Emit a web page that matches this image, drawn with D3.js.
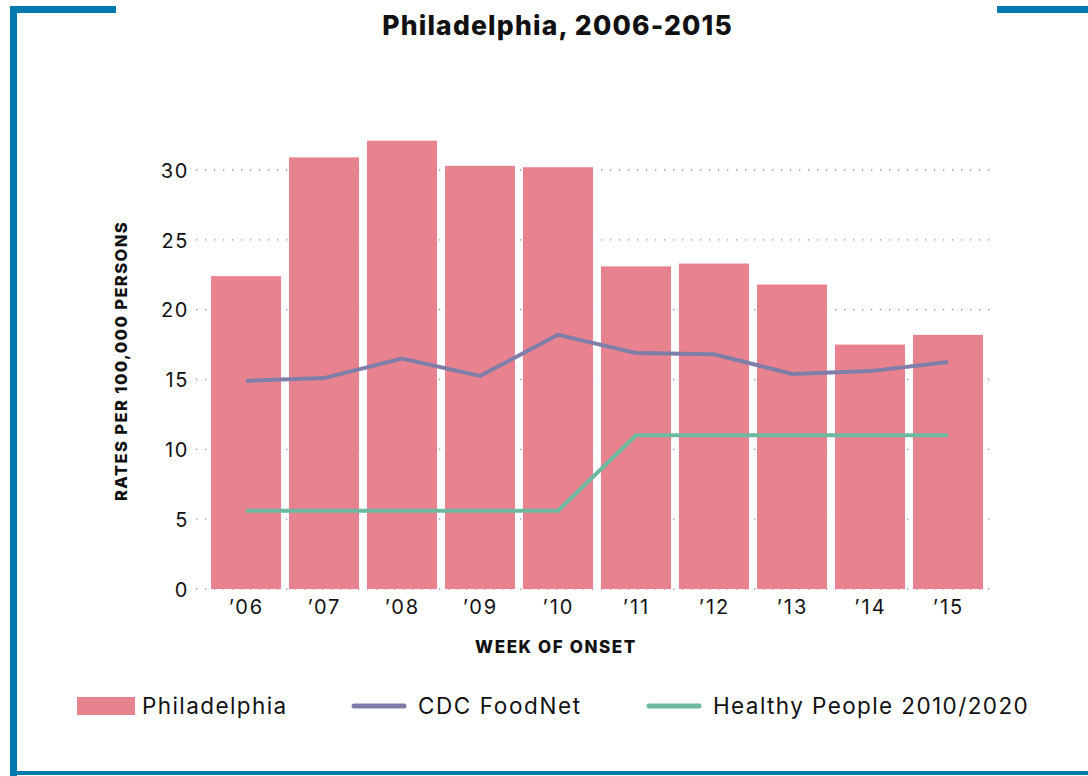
<!DOCTYPE html>
<html>
<head>
<meta charset="utf-8">
<script src="https://cdn.jsdelivr.net/npm/d3@7"></script>
<style>
  html, body { margin: 0; padding: 0; background: #fff; }
  svg { display: block; font-family: Inter, "Open Sans", "DejaVu Sans", sans-serif; }
</style>
</head>
<body>
<svg id="chart" width="1088" height="776"></svg>
<script>
// ---- data ----
const years = ["’06", "’07", "’08", "’09", "’10", "’11", "’12", "’13", "’14", "’15"];
const philadelphia = [22.4, 30.9, 32.1, 30.3, 30.2, 23.1, 23.3, 21.8, 17.5, 18.2];
const cdcFoodNet = [14.9, 15.1, 16.5, 15.25, 18.2, 16.9, 16.8, 15.4, 15.6, 16.25];
const healthyPeople = [5.6, 5.6, 5.6, 5.6, 5.6, 11.0, 11.0, 11.0, 11.0, 11.0];
const yTicks = [0, 5, 10, 15, 20, 25, 30];
const titleText = "Philadelphia, 2006-2015";
const xTitle = "WEEK OF ONSET";
const yTitle = "RATES PER 100,000 PERSONS";
const legendItems = ["Philadelphia", "CDC FoodNet", "Healthy People 2010/2020"];

// ---- styles ----
const barColor = "#e8828f";
const cdcColor = "#7f7ea9";
const hpColor = "#6cb9a0";
const frameColor = "#0079ad";

const svg = d3.select("#chart");

// frame
svg.append("rect").attr("x", 10).attr("y", 6).attr("width", 7).attr("height", 770).attr("fill", frameColor);
svg.append("rect").attr("x", 10).attr("y", 6).attr("width", 106).attr("height", 7).attr("fill", frameColor);
svg.append("rect").attr("x", 997).attr("y", 6).attr("width", 91).attr("height", 7).attr("fill", frameColor);
svg.append("rect").attr("x", 10).attr("y", 771).attr("width", 1078).attr("height", 4).attr("fill", frameColor);

// title
svg.append("text").attr("x", 557 + 0.6).attr("y", 35).attr("text-anchor", "middle")
  .attr("font-size", 26.5).attr("font-weight", 800).attr("letter-spacing", 1.2)
  .attr("fill", "#111").text(titleText);

// scales
const x = d3.scaleBand().domain(years).range([207.1, 986.9]).paddingInner(8 / 78).paddingOuter(0.05);
const y = d3.scaleLinear().domain([0, 30]).range([589, 170]);

// gridlines
svg.append("g").selectAll("line").data(yTicks).join("line")
  .attr("x1", 196).attr("x2", 994)
  .attr("y1", d => y(d)).attr("y2", d => y(d))
  .attr("stroke", "#9a9a9a").attr("stroke-width", 1.3)
  .attr("stroke-dasharray", "1.3,7.7");

// bars
svg.append("g").selectAll("rect").data(philadelphia).join("rect")
  .attr("x", (d, i) => x(years[i]))
  .attr("y", d => y(d))
  .attr("width", x.bandwidth())
  .attr("height", d => y(0) - y(d))
  .attr("fill", barColor);

// lines
const line = d3.line().x((d, i) => x(years[i]) + x.bandwidth() / 2).y(d => y(d));
svg.append("path").datum(healthyPeople).attr("d", line)
  .attr("fill", "none").attr("stroke", hpColor).attr("stroke-width", 4);
svg.append("path").datum(cdcFoodNet).attr("d", line)
  .attr("fill", "none").attr("stroke", cdcColor).attr("stroke-width", 4);

// y axis
const yAxis = d3.axisLeft(y).tickValues(yTicks).tickSize(0).tickPadding(0);
const gy = svg.append("g").attr("transform", "translate(189,0)").call(yAxis);
gy.select(".domain").remove();
gy.selectAll("text").attr("font-size", 20).attr("fill", "#111").attr("letter-spacing", 1.6)
  .attr("font-family", "Inter, 'Open Sans', sans-serif").attr("dy", "0.36em");

// x axis
const xAxis = d3.axisBottom(x).tickSize(0).tickPadding(0);
const gx = svg.append("g").attr("transform", "translate(0,600)").call(xAxis);
gx.select(".domain").remove();
gx.selectAll("text").attr("font-size", 20).attr("fill", "#111").attr("letter-spacing", 2.0)
  .attr("font-family", "Inter, 'Open Sans', sans-serif").attr("dy", "0.71em").attr("dx", 0.5);

// axis titles
svg.append("text").attr("x", 556).attr("y", 653).attr("text-anchor", "middle")
  .attr("font-size", 17).attr("font-weight", 800).attr("letter-spacing", 1.6)
  .attr("fill", "#111").text(xTitle);
svg.append("text").attr("transform", "translate(127,361) rotate(-90)").attr("text-anchor", "middle")
  .attr("font-size", 16.5).attr("font-weight", 800).attr("letter-spacing", 1.4)
  .attr("fill", "#111").text(yTitle);

// legend
const lg = svg.append("g");
lg.append("rect").attr("x", 77).attr("y", 697).attr("width", 58).attr("height", 18).attr("fill", barColor);
lg.append("text").attr("x", 142).attr("y", 714).attr("font-size", 22.5).attr("letter-spacing", 1.4)
  .attr("fill", "#111").text(legendItems[0]);
lg.append("line").attr("x1", 354).attr("x2", 404).attr("y1", 706).attr("y2", 706)
  .attr("stroke", cdcColor).attr("stroke-width", 5).attr("stroke-linecap", "round");
lg.append("text").attr("x", 418).attr("y", 714).attr("font-size", 22.5).attr("letter-spacing", 1.6)
  .attr("fill", "#111").text(legendItems[1]);
lg.append("line").attr("x1", 649).attr("x2", 699).attr("y1", 706).attr("y2", 706)
  .attr("stroke", hpColor).attr("stroke-width", 5).attr("stroke-linecap", "round");
lg.append("text").attr("x", 713).attr("y", 714).attr("font-size", 22.5).attr("letter-spacing", 1.4)
  .attr("fill", "#111").text(legendItems[2]);
</script>
</body>
</html>
